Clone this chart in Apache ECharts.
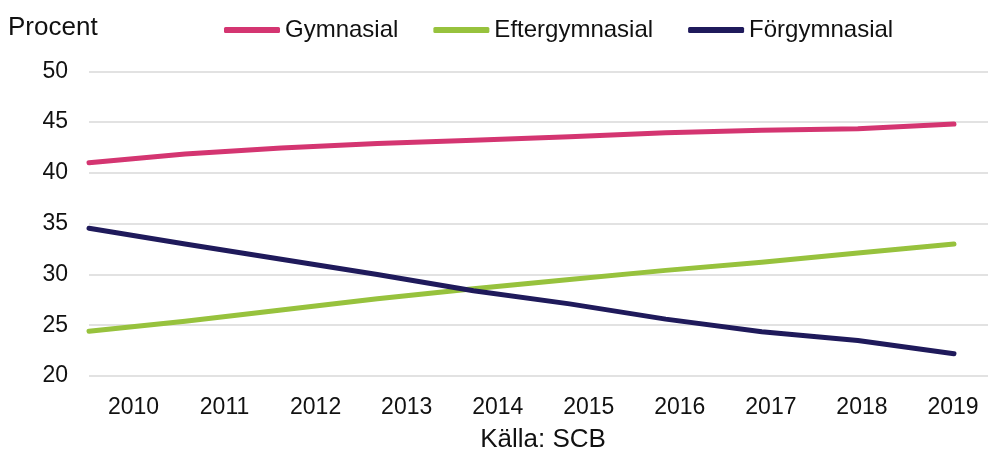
<!DOCTYPE html>
<html>
<head>
<meta charset="utf-8">
<script src="https://cdn.jsdelivr.net/npm/echarts@6/dist/echarts.min.js"></script>
<style>
  html, body { margin: 0; padding: 0; background: #fff; }
  #chart { width: 988px; height: 454px; }
</style>
</head>
<body>
<div id="chart"></div>
<script>
const years = [2010, 2011, 2012, 2013, 2014, 2015, 2016, 2017, 2018, 2019];
const yearLabels = ['2010', '2011', '2012', '2013', '2014', '2015', '2016', '2017', '2018', '2019'];
const gymnasial = [41.0, 41.85, 42.45, 42.9, 43.2, 43.55, 43.95, 44.2, 44.35, 44.8];
const eftergymnasial = [24.4, 25.4, 26.5, 27.6, 28.6, 29.5, 30.4, 31.2, 32.1, 33.0];
const forgymnasial = [34.55, 33.0, 31.5, 30.0, 28.4, 27.1, 25.6, 24.35, 23.5, 22.2];
const seriesNames = ['Gymnasial', 'Eftergymnasial', 'Förgymnasial'];
const yMin = 20, yMax = 50, yStep = 5;
const unitLabel = 'Procent';
const sourceLabel = 'Källa: SCB';

const FONT = "'Liberation Sans', Arial, sans-serif";
const colors = ['#D43571', '#97C23D', '#1F1A5B'];
const pairs = arr => years.map((y, i) => [y, arr[i]]);

const chart = echarts.init(document.getElementById('chart'), null, { renderer: 'canvas' });
const lineSeries = (name, data, color) => ({
  name, type: 'line', xAxisIndex: 0, yAxisIndex: 0,
  data: pairs(data), showSymbol: false, symbol: 'none',
  smooth: false,
  lineStyle: { color, width: 5, cap: 'round', join: 'round' },
  itemStyle: { color },
  emphasis: { disabled: true }
});

chart.setOption({
  animation: false,
  color: colors,
  textStyle: { fontFamily: FONT },
  grid: [
    { left: 89, right: 0, top: 71.3, bottom: 78 },
    { left: 133.5, right: 35, top: 71.3, bottom: 78 }
  ],
  legend: {
    data: seriesNames,
    left: 224, top: 18, padding: 0,
    itemWidth: 56, itemHeight: 6, itemGap: 35,
    icon: 'roundRect',
    textStyle: { fontSize: 24, color: '#111', fontFamily: FONT }
  },
  xAxis: [
    { type: 'value', gridIndex: 0, min: 2010, max: 2010 + 899 / 96.11,
      axisLine: { show: false }, axisTick: { show: false },
      axisLabel: { show: false }, splitLine: { show: false } },
    { type: 'category', gridIndex: 1, data: yearLabels, boundaryGap: false,
      axisLine: { show: false }, axisTick: { show: false }, splitLine: { show: false },
      axisLabel: { fontSize: 23, color: '#111', margin: 20, fontFamily: FONT, interval: 0 } }
  ],
  yAxis: [
    { type: 'value', gridIndex: 0, min: yMin, max: yMax, interval: yStep,
      axisLine: { show: false }, axisTick: { show: false },
      axisLabel: { fontSize: 23, color: '#111', margin: 21, fontFamily: FONT },
      splitLine: { lineStyle: { color: '#d9d9d9', width: 1.5 } } },
    { type: 'value', gridIndex: 1, min: yMin, max: yMax, show: false,
      splitLine: { show: false } }
  ],
  graphic: [
    { type: 'text', x: 8, y: 28,
      style: { text: unitLabel, font: '26px ' + FONT, fill: '#111', verticalAlign: 'middle' } },
    { type: 'text', x: 543, y: 440,
      style: { text: sourceLabel, font: '26px ' + FONT, fill: '#111', align: 'center', verticalAlign: 'middle' } }
  ],
  series: [
    lineSeries(seriesNames[0], gymnasial, colors[0]),
    lineSeries(seriesNames[1], eftergymnasial, colors[1]),
    lineSeries(seriesNames[2], forgymnasial, colors[2])
  ]
});
</script>
</body>
</html>
